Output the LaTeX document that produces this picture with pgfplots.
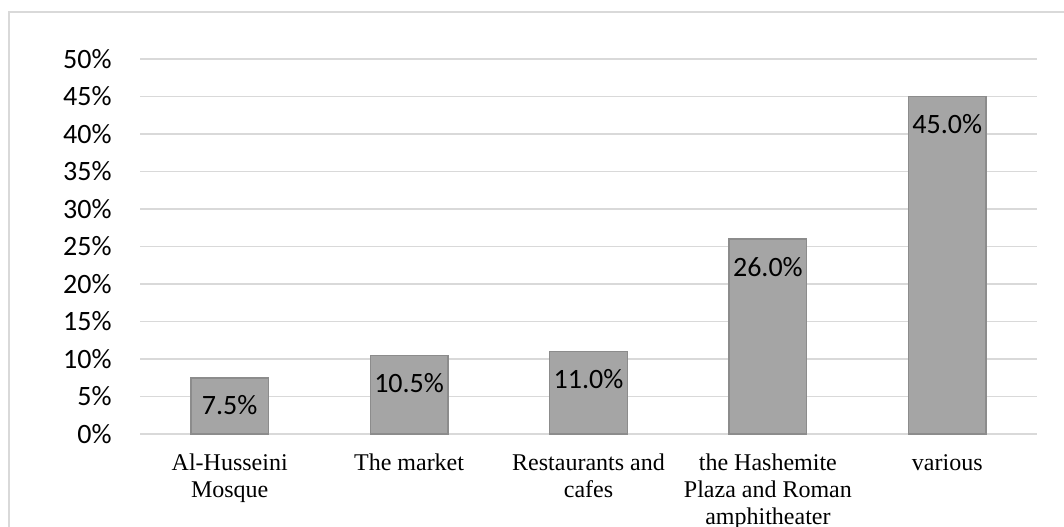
\documentclass[border=0pt]{standalone}
\usepackage{pgfplots}
\pgfplotsset{compat=1.18}
\usepackage{fontspec}
\setmainfont{Carlito}
\newfontfamily\timesfont{Liberation Serif}
\definecolor{gridc}{HTML}{D9D9D9}
\definecolor{barfill}{HTML}{A5A5A5}
\definecolor{baredge}{HTML}{8C8C8C}
\begin{document}
\begin{tikzpicture}
\useasboundingbox (0pt,0pt) rectangle (532pt,263pt);
\clip (0pt,0pt) rectangle (532pt,263pt);
\draw[gridc, line width=0.9pt] (4.3pt,-20pt) rectangle (560pt,257pt);
\begin{axis}[
  at={(70pt,46pt)}, anchor=south west,
  width=448.5pt, height=187.5pt, scale only axis,
  xmin=-0.5, xmax=4.5, ymin=0, ymax=50,
  axis line style={draw=none},
  major tick length=0pt,
  ymajorgrids, grid style={gridc, line width=0.75pt},
  ytick={0,5,...,50},
  yticklabels={0\%,5\%,10\%,15\%,20\%,25\%,30\%,35\%,40\%,45\%,50\%},
  yticklabel style={font=\fontsize{14}{17}\selectfont, anchor=east, inner sep=0pt, xshift=-14pt},
  xtick={0,1,2,3,4},
  xticklabels={\strut Al-Husseini\\Mosque, \strut The market, \strut Restaurants and\\cafes, \strut the Hashemite\\Plaza and Roman\\amphitheater, \strut various},
  xticklabel style={font=\timesfont\fontsize{12}{13.5}\selectfont, align=center, anchor=north, inner sep=0pt, yshift=-8.6pt},
]
\addplot[ybar, bar width=38.8pt, fill=barfill, draw=baredge, line width=0.75pt,
  nodes near coords={\pgfmathprintnumber[fixed,fixed zerofill,precision=1,assume math mode=true]{\pgfplotspointmeta}\%},
  every node near coord/.append style={font=\fontsize{14}{17}\selectfont, text=black, inner sep=0pt, yshift=-19pt}]
  coordinates {(0,7.5) (1,10.5) (2,11.0) (3,26.0) (4,45.0)};
\end{axis}
\end{tikzpicture}
\end{document}
